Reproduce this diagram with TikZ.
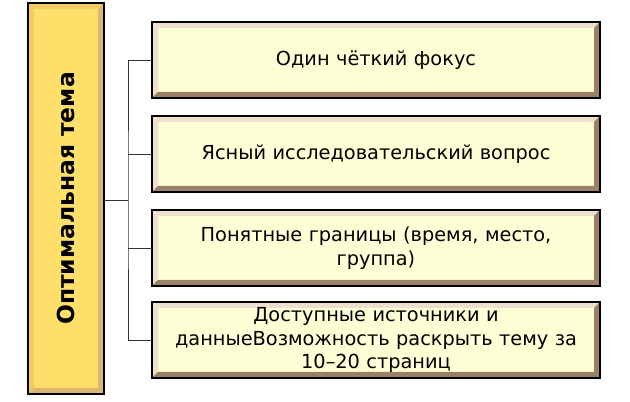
\documentclass[tikz,border=0pt]{standalone}
\usepackage{fontspec}
\setmainfont{DejaVu Sans}
\usepackage{tikz}
\usetikzlibrary{calc}

\definecolor{topicfill}{HTML}{FDDF6A}
\definecolor{itemfill}{HTML}{FFFFD6}
\tikzset{
    item/.style={text width=15cm, align=center, font=\fontsize{16.5}{20}\selectfont},
    title/.style={font=\bfseries\fontsize{20}{24}\selectfont, rotate=90},
    link/.style={draw=black!80, line width=0.8pt}
}
% bevelled box: corners, fill, light, dark, bevel width
\newcommand{\bevelbox}[6]{
    \fill[#3] (#1) rectangle (#2);
    \fill[#4] (#1) -- ($(#1)+(#6,#6)$) -- ($(#1 |- #2)+(#6,-#6)$) -- (#1 |- #2) -- cycle;
    \fill[#4] (#1) -- ($(#1)+(#6,#6)$) -- ($(#2 |- #1)+(-#6,#6)$) -- (#2 |- #1) -- cycle;
    \fill[#5] (#2) -- ($(#2)+(-#6,-#6)$) -- ($(#2 |- #1)+(-#6,#6)$) -- (#2 |- #1) -- cycle;
    \fill[#5] (#2) -- ($(#2)+(-#6,-#6)$) -- ($(#1 |- #2)+(#6,-#6)$) -- (#1 |- #2) -- cycle;
    \draw[line width=1.2pt] (#1) rectangle (#2);
}

\begin{document}
\begin{tikzpicture}[x=0.03cm, y=-0.03cm]
    \useasboundingbox (0,0) rectangle (630,402);

    \coordinate (L1) at (28,3);
    \coordinate (L2) at (104,394);
    \bevelbox{L1}{L2}{topicfill}{topicfill!80!brown}{brown!80!yellow!70}{6}
    \node[title] (topic) at ($(L1)!0.5!(L2)$) {Оптимальная тема};

    \foreach \y/\name in {22/b1, 116/b2, 210/b3, 302/b4}{
        \coordinate (\name a) at (152,\y);
        \coordinate (\name b) at (600,\y+76);
        \bevelbox{\name a}{\name b}{itemfill}{brown!25!white}{gray!60!brown}{6}
        \coordinate (\name) at ($(\name a)!0.5!(\name b)$);
        \coordinate (\name w) at (152,\y+38);
    }

    \node[item] (t1) at (b1) {Один чёткий фокус};
    \node[item] (t2) at (b2) {Ясный исследовательский вопрос};
    \node[item] (t3) at (b3) {Понятные границы (время, место,\\группа)};
    \node[item] (t4) at (b4) {Доступные источники и\\данныеВозможность раскрыть тему за\\10–20 страниц};

    \coordinate (hub) at (128,200);
    \draw[link] (L2 |- hub) -- (hub);
    \draw[link] (b1w) -| (hub) |- (b4w);
    \draw[link] (hub |- b2w) -- (b2w);
    \draw[link] (hub |- b3w) -- (b3w);
\end{tikzpicture}
\end{document}
